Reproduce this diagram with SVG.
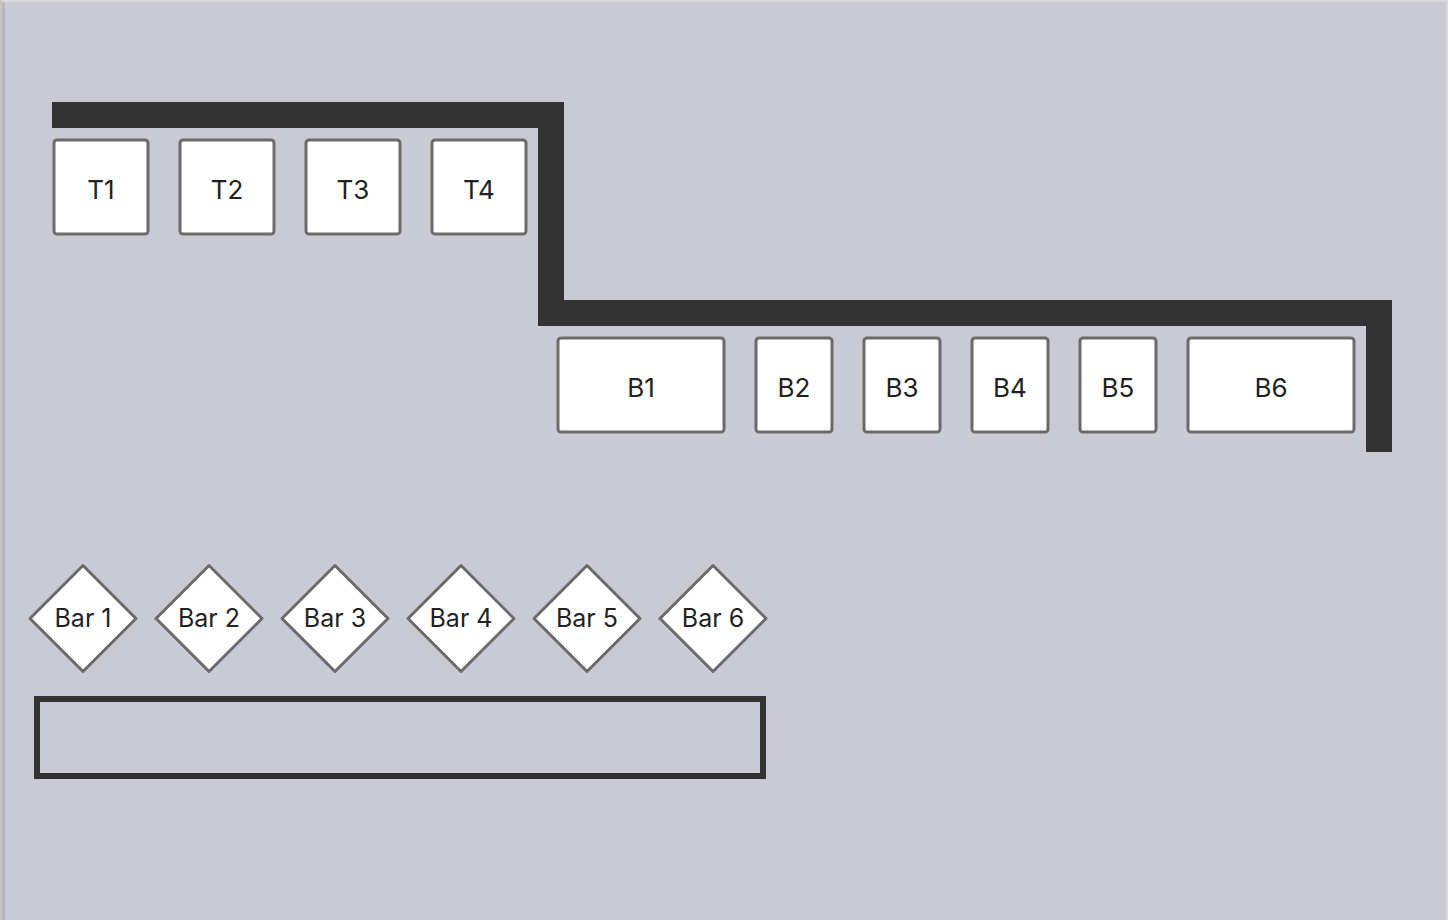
<svg xmlns="http://www.w3.org/2000/svg" width="1448" height="920" viewBox="0 0 1448 920">
<style>
.box{fill:#fff;stroke:#6b6b6b;stroke-width:3}
.dia{fill:#fff;stroke:#6b6b6b;stroke-width:3;stroke-linejoin:round}
.lbl{font-family:Inter,"Liberation Sans",sans-serif;font-size:26px;fill:#222;text-anchor:middle;dominant-baseline:central}
.bl{font-family:Inter,"Liberation Sans",sans-serif;font-size:25px;fill:#222;text-anchor:middle;dominant-baseline:central}
</style>
<rect x="0" y="0" width="1448" height="920" fill="#c9cad3"/>
<rect x="0" y="0" width="1448" height="2" fill="#d9d9dc"/>
<rect x="0" y="0" width="2" height="920" fill="#c4c4c6"/>
<rect x="2" y="2" width="3" height="918" fill="#b8b9bd"/>
<rect x="1446" y="0" width="2" height="920" fill="#d9d9dc"/>
<g id="connectors">
<polyline points="52,115 551,115 551,313 1379,313 1379,452" fill="none" stroke="#333" stroke-width="26" stroke-linejoin="miter"/>
</g>
<g id="T1"><rect class="box" x="54" y="140" width="94" height="94" rx="3"/><text class="lbl" x="101" y="189.5">T1</text></g>
<g id="T2"><rect class="box" x="180" y="140" width="94" height="94" rx="3"/><text class="lbl" x="227" y="189.5">T2</text></g>
<g id="T3"><rect class="box" x="306" y="140" width="94" height="94" rx="3"/><text class="lbl" x="353" y="189.5">T3</text></g>
<g id="T4"><rect class="box" x="432" y="140" width="94" height="94" rx="3"/><text class="lbl" x="479" y="189.5">T4</text></g>
<g id="B1"><rect class="box" x="558" y="338" width="166" height="94" rx="3"/><text class="lbl" x="641" y="387.5">B1</text></g>
<g id="B2"><rect class="box" x="756" y="338" width="76" height="94" rx="3"/><text class="lbl" x="794" y="387.5">B2</text></g>
<g id="B3"><rect class="box" x="864" y="338" width="76" height="94" rx="3"/><text class="lbl" x="902" y="387.5">B3</text></g>
<g id="B4"><rect class="box" x="972" y="338" width="76" height="94" rx="3"/><text class="lbl" x="1010" y="387.5">B4</text></g>
<g id="B5"><rect class="box" x="1080" y="338" width="76" height="94" rx="3"/><text class="lbl" x="1118" y="387.5">B5</text></g>
<g id="B6"><rect class="box" x="1188" y="338" width="166" height="94" rx="3"/><text class="lbl" x="1271" y="387.5">B6</text></g>
<g id="Bar1"><polygon class="dia" points="83,565.5 136,618.5 83,671.5 30,618.5"/><text class="bl" x="83" y="618">Bar 1</text></g>
<g id="Bar2"><polygon class="dia" points="209,565.5 262,618.5 209,671.5 156,618.5"/><text class="bl" x="209" y="618">Bar 2</text></g>
<g id="Bar3"><polygon class="dia" points="335,565.5 388,618.5 335,671.5 282,618.5"/><text class="bl" x="335" y="618">Bar 3</text></g>
<g id="Bar4"><polygon class="dia" points="461,565.5 514,618.5 461,671.5 408,618.5"/><text class="bl" x="461" y="618">Bar 4</text></g>
<g id="Bar5"><polygon class="dia" points="587,565.5 640,618.5 587,671.5 534,618.5"/><text class="bl" x="587" y="618">Bar 5</text></g>
<g id="Bar6"><polygon class="dia" points="713,565.5 766,618.5 713,671.5 660,618.5"/><text class="bl" x="713" y="618">Bar 6</text></g>
<g id="counter"><rect x="37" y="699" width="726" height="77" fill="none" stroke="#333" stroke-width="6"/></g>
</svg>
